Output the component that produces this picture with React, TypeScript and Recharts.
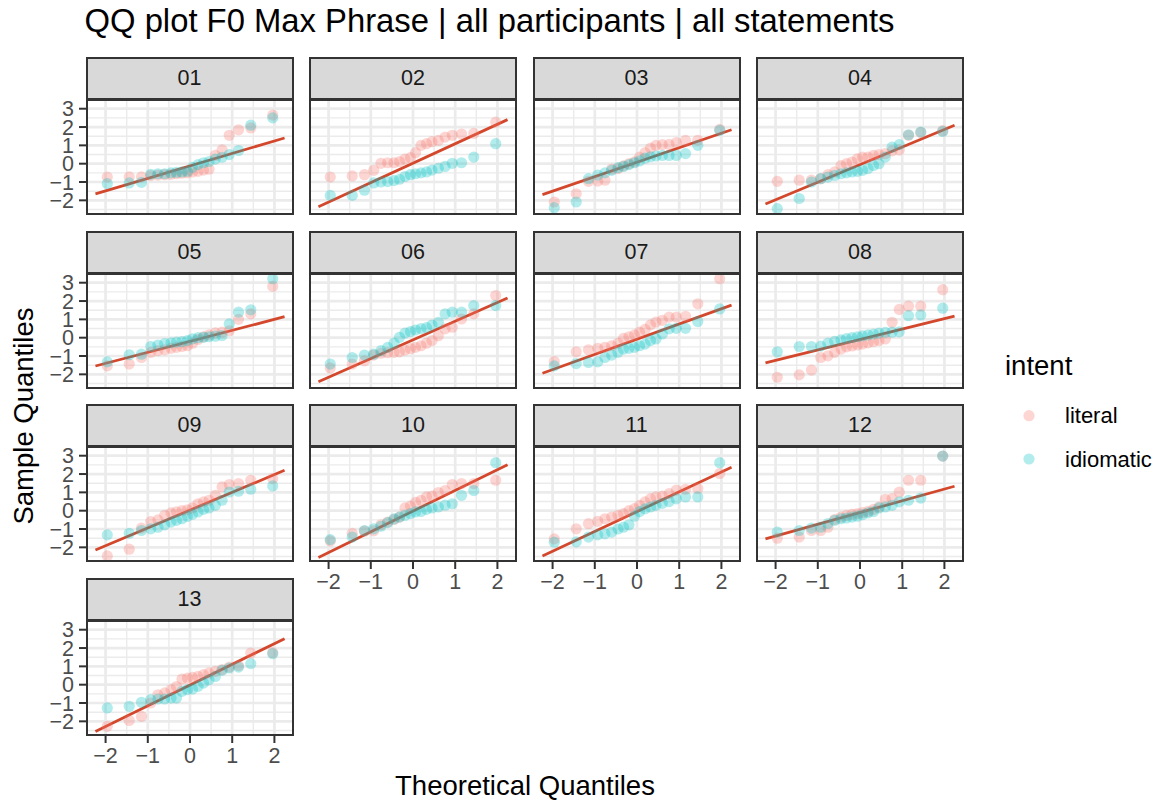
import { ComposedChart, Scatter, Line, XAxis, YAxis, CartesianGrid } from "recharts";

const panels = ["01", "02", "03", "04", "05", "06", "07", "08", "09", "10", "11", "12", "13"];

// theoretical normal quantiles for 20 points per group
const theoretical = [
  -1.96, -1.44, -1.15, -0.93, -0.76, -0.6, -0.45, -0.32, -0.19, -0.06,
  0.06, 0.19, 0.32, 0.45, 0.6, 0.76, 0.93, 1.15, 1.44, 1.96,
];

const literalSample = [
  [-0.73, -0.72, -0.72, -0.65, -0.62, -0.6, -0.58, -0.55, -0.52, -0.5, -0.45, -0.42, -0.35, -0.3, 0.45, 0.75, 1.55, 1.85, 1.95, 2.65],
  [-0.73, -0.67, -0.6, -0.36, 0.02, 0.05, 0.05, 0.12, 0.25, 0.33, 0.6, 1.0, 1.09, 1.2, 1.27, 1.45, 1.55, 1.62, 1.65, 2.27],
  [-2.09, -1.64, -0.96, -0.95, -0.9, -0.3, -0.27, -0.12, 0.0, 0.1, 0.36, 0.6, 0.85, 1.0, 1.04, 1.05, 1.15, 1.27, 1.28, 1.87],
  [-0.96, -0.9, -0.9, -0.82, -0.6, -0.45, -0.1, 0.0, 0.09, 0.27, 0.36, 0.36, 0.45, 0.5, 0.55, 0.7, 0.75, 1.55, 1.7, 1.8],
  [-1.54, -1.44, -1.08, -0.8, -0.71, -0.66, -0.58, -0.53, -0.48, -0.44, -0.3, -0.1, 0.05, 0.15, 0.26, 0.3, 0.38, 1.0, 1.3, 2.8],
  [-1.65, -1.44, -1.26, -0.95, -0.85, -0.82, -0.8, -0.77, -0.68, -0.6, -0.53, -0.44, -0.3, -0.16, 0.11, 0.48, 0.57, 1.02, 1.3, 2.3],
  [-1.3, -0.77, -0.66, -0.58, -0.53, -0.44, -0.3, -0.04, 0.05, 0.15, 0.3, 0.45, 0.7, 0.85, 0.95, 1.12, 1.12, 1.17, 1.85, 3.22],
  [-2.16, -2.03, -1.77, -1.08, -0.99, -0.8, -0.62, -0.5, -0.45, -0.4, -0.35, -0.28, -0.22, -0.16, -0.07, 0.84, 1.54, 1.72, 1.72, 2.62],
  [-2.47, -2.1, -0.95, -0.6, -0.5, -0.25, -0.12, -0.06, 0.0, 0.05, 0.15, 0.38, 0.48, 0.57, 0.84, 1.3, 1.43, 1.48, 1.66, 1.75],
  [-1.65, -1.23, -1.12, -1.1, -0.77, -0.62, -0.48, -0.35, 0.15, 0.25, 0.45, 0.57, 0.75, 0.8, 0.99, 1.1, 1.43, 1.48, 1.48, 1.66],
  [-1.54, -0.99, -0.71, -0.58, -0.44, -0.35, -0.25, -0.16, 0.0, 0.11, 0.29, 0.48, 0.66, 0.75, 0.8, 0.93, 1.12, 1.17, 1.21, 2.03],
  [-1.5, -1.44, -1.08, -1.08, -0.9, -0.48, -0.35, -0.26, -0.2, -0.16, -0.11, -0.04, 0.07, 0.2, 0.62, 0.66, 1.02, 1.66, 1.66, 2.98],
  [-2.27, -1.95, -1.73, -1.0, -0.55, -0.45, -0.27, -0.1, 0.31, 0.36, 0.4, 0.45, 0.55, 0.64, 0.73, 0.82, 0.96, 1.04, 1.73, 1.75],
];

const idiomaticSample = [
  [-1.09, -1.05, -1.02, -0.58, -0.55, -0.55, -0.5, -0.47, -0.45, -0.42, -0.2, -0.05, 0.05, 0.12, 0.25, 0.35, 0.5, 0.72, 2.1, 2.5],
  [-1.73, -1.73, -1.45, -1.05, -1.0, -0.98, -0.92, -0.85, -0.7, -0.6, -0.55, -0.5, -0.45, -0.35, -0.25, -0.15, 0.02, 0.05, 0.36, 1.09],
  [-2.4, -2.09, -0.82, -0.62, -0.5, -0.36, -0.22, -0.15, -0.05, 0.05, 0.15, 0.3, 0.38, 0.42, 0.45, 0.45, 0.45, 0.55, 1.0, 1.82],
  [-2.45, -1.9, -1.0, -0.82, -0.73, -0.64, -0.55, -0.5, -0.45, -0.42, -0.36, -0.27, -0.1, 0.0, 0.36, 0.9, 1.04, 1.58, 1.73, 1.76],
  [-1.32, -0.93, -0.9, -0.48, -0.4, -0.32, -0.28, -0.24, -0.22, -0.16, -0.06, 0.0, 0.02, 0.05, 0.08, 0.12, 0.75, 1.39, 1.52, 3.22],
  [-1.44, -1.08, -0.95, -0.9, -0.71, -0.53, -0.3, 0.02, 0.25, 0.33, 0.42, 0.5, 0.55, 0.69, 0.84, 1.3, 1.39, 1.39, 1.75, 1.75],
  [-1.54, -1.41, -1.35, -1.32, -1.08, -0.95, -0.8, -0.62, -0.58, -0.53, -0.44, -0.35, -0.16, -0.07, 0.2, 0.48, 0.51, 0.51, 0.88, 1.57],
  [-0.77, -0.48, -0.48, -0.46, -0.3, -0.2, -0.12, -0.05, 0.0, 0.05, 0.1, 0.15, 0.2, 0.25, 0.29, 0.3, 0.32, 1.2, 1.24, 1.61],
  [-1.32, -1.23, -1.08, -0.99, -0.9, -0.77, -0.62, -0.53, -0.44, -0.31, -0.2, -0.07, 0.07, 0.15, 0.29, 0.57, 1.02, 1.06, 1.17, 1.35],
  [-1.58, -1.44, -1.08, -0.99, -0.85, -0.65, -0.45, -0.35, -0.26, -0.16, -0.07, -0.04, 0.07, 0.15, 0.2, 0.3, 0.38, 0.84, 1.1, 2.62],
  [-1.72, -1.7, -1.44, -1.32, -1.26, -1.17, -1.0, -0.9, -0.77, -0.3, -0.05, 0.1, 0.2, 0.29, 0.4, 0.5, 0.65, 0.75, 0.75, 2.62],
  [-1.17, -1.08, -0.95, -0.9, -0.7, -0.53, -0.44, -0.4, -0.35, -0.3, -0.22, -0.12, -0.05, 0.15, 0.2, 0.29, 0.48, 0.57, 0.69, 2.98],
  [-1.27, -1.18, -0.96, -0.82, -0.78, -0.78, -0.73, -0.73, -0.36, -0.27, -0.24, -0.09, 0.09, 0.27, 0.45, 0.78, 0.91, 0.96, 1.15, 1.69],
];

// qq line per panel: y = intercept + slope * x
const lineIntercept = [-0.12, 0.03, 0.08, -0.05, -0.2, -0.12, -0.08, -0.1, 0.03, -0.02, -0.05, -0.1, -0.02];
const lineSlope = [0.68, 1.06, 0.79, 0.96, 0.6, 1.02, 0.83, 0.57, 0.97, 1.13, 1.08, 0.64, 1.13];
const lineRange = [-2.24, 2.24];

const xTicks = [-2, -1, 0, 1, 2];
const yTicks = [-2, -1, 0, 1, 2, 3];
const xMinor = [-1.5, -0.5, 0.5, 1.5];
const yMinor = [-2.5, -1.5, -0.5, 0.5, 1.5, 2.5, 3.5];

const FONT = '"Liberation Sans", Arial, Helvetica, sans-serif';
const LITERAL = "#F8766D";
const IDIOMATIC = "#00BFC4";
const QQLINE = "#D3482C";

const X_DOMAIN = [-2.464, 2.464];
const Y_DOMAIN = [-2.8, 3.53];
const COL_LEFT = 85.5;
const COL_STEP = 223.5;
const PANEL_W = 208;
const ROW_TOP = 57;
const ROW_STEP = 173.6;
const STRIP_H = 42;
const PANEL_H = 116;
const Y_AXIS_W = 48;
const X_AXIS_H = 40;
const PAD_TOP = 12; // room above the plot so the top tick label is not clipped

const fmt = (v: number) => (v < 0 ? "\u2212" + Math.abs(v) : String(v));

function Dot(props: any) {
  const { cx, cy, fill } = props;
  if (cx == null || cy == null) return null;
  return <circle cx={cx} cy={cy} r={5.6} fill={fill} fillOpacity={0.3} />;
}

function Panel({ i }: { i: number }) {
  const col = i % 4;
  const row = Math.floor(i / 4);
  const showY = col === 0;
  const showX = i >= 9;
  const plotLeft = COL_LEFT + col * COL_STEP;
  const stripTop = ROW_TOP + row * ROW_STEP;
  const plotTop = stripTop + STRIP_H;
  const yw = showY ? Y_AXIS_W : 0;
  const xh = showX ? X_AXIS_H : 0;

  const lit = theoretical.map((x, k) => ({ x, y: literalSample[i][k] }));
  const idi = theoretical.map((x, k) => ({ x, y: idiomaticSample[i][k] }));
  const qq = lineRange.map((x) => ({ x, y: lineIntercept[i] + lineSlope[i] * x }));

  const tickStyle = { fill: "#4D4D4D", fontSize: 21.5, fontFamily: FONT };

  return (
    <>
      <div style={{ position: "absolute", left: plotLeft - yw, top: plotTop - PAD_TOP }}>
        <ComposedChart
          width={PANEL_W + yw}
          height={PANEL_H + xh + PAD_TOP}
          margin={{ top: PAD_TOP, right: 0, bottom: 0, left: 0 }}
        >
          <XAxis
            type="number"
            dataKey="x"
            domain={X_DOMAIN}
            ticks={xTicks}
            interval={0}
            allowDataOverflow
            hide={!showX}
            height={X_AXIS_H}
            tickSize={7}
            tickMargin={5}
            axisLine={false}
            tickLine={{ stroke: "#333333", strokeWidth: 2 }}
            tick={tickStyle}
            tickFormatter={fmt}
          />
          <YAxis
            type="number"
            dataKey="y"
            domain={Y_DOMAIN}
            ticks={yTicks}
            interval={0}
            allowDataOverflow
            hide={!showY}
            width={Y_AXIS_W}
            tickSize={7}
            tickMargin={5}
            axisLine={false}
            tickLine={{ stroke: "#333333", strokeWidth: 2 }}
            tick={tickStyle}
            tickFormatter={fmt}
          />
          <CartesianGrid
            stroke="#EBEBEB"
            strokeWidth={1.4}
            horizontalValues={yMinor}
            verticalValues={xMinor}
          />
          <CartesianGrid
            stroke="#EBEBEB"
            strokeWidth={2.7}
            horizontalValues={yTicks}
            verticalValues={xTicks}
          />
          <Scatter data={lit} fill={LITERAL} shape={Dot} isAnimationActive={false} />
          <Scatter data={idi} fill={IDIOMATIC} shape={Dot} isAnimationActive={false} />
          <Line
            data={qq}
            dataKey="y"
            type="linear"
            stroke={QQLINE}
            strokeWidth={2.8}
            dot={false}
            activeDot={false}
            isAnimationActive={false}
          />
        </ComposedChart>
      </div>
      <div
        style={{
          position: "absolute",
          left: plotLeft,
          top: stripTop,
          width: PANEL_W,
          height: STRIP_H + 1,
          boxSizing: "border-box",
          background: "#D9D9D9",
          border: "2px solid #333333",
          color: "#1A1A1A",
          fontFamily: FONT,
          fontSize: 21.5,
          lineHeight: `${STRIP_H - 3}px`,
          textAlign: "center",
        }}
      >
        {panels[i]}
      </div>
      <div
        style={{
          position: "absolute",
          left: plotLeft,
          top: plotTop,
          width: PANEL_W,
          height: PANEL_H,
          boxSizing: "border-box",
          border: "2px solid #333333",
          pointerEvents: "none",
        }}
      />
    </>
  );
}

export default function App() {
  return (
    <div
      style={{
        position: "absolute",
        left: 0,
        top: 0,
        width: 1161,
        height: 804,
        background: "#FFFFFF",
        fontFamily: FONT,
        overflow: "hidden",
      }}
    >
      <div style={{ position: "absolute", left: 84.5, top: 4, fontSize: 32.8, lineHeight: "33px", color: "#000", whiteSpace: "nowrap" }}>
        QQ plot F0 Max Phrase | all participants | all statements
      </div>

      {panels.map((_, i) => (
        <Panel key={i} i={i} />
      ))}

      <div
        style={{
          position: "absolute",
          left: 24 - 150,
          top: 416 - 15,
          width: 300,
          height: 30,
          lineHeight: "30px",
          fontSize: 27.5,
          textAlign: "center",
          transform: "rotate(-90deg)",
          color: "#000",
          whiteSpace: "nowrap",
        }}
      >
        Sample Quantiles
      </div>
      <div
        style={{
          position: "absolute",
          left: 525 - 200,
          top: 771.7,
          width: 400,
          fontSize: 27.5,
          lineHeight: "27.5px",
          textAlign: "center",
          color: "#000",
          whiteSpace: "nowrap",
        }}
      >
        Theoretical Quantiles
      </div>

      <div style={{ position: "absolute", left: 1005, top: 351.7, fontSize: 27.5, lineHeight: "27.5px", color: "#000" }}>
        intent
      </div>
      <svg style={{ position: "absolute", left: 1015, top: 400 }} width={30} height={75}>
        <circle cx={14} cy={15.7} r={5.6} fill={LITERAL} fillOpacity={0.3} />
        <circle cx={14} cy={59} r={5.6} fill={IDIOMATIC} fillOpacity={0.3} />
      </svg>
      <div style={{ position: "absolute", left: 1065, top: 405.4, fontSize: 22, lineHeight: "22px", color: "#000" }}>
        literal
      </div>
      <div style={{ position: "absolute", left: 1065, top: 449.4, fontSize: 22, lineHeight: "22px", color: "#000" }}>
        idiomatic
      </div>
    </div>
  );
}
